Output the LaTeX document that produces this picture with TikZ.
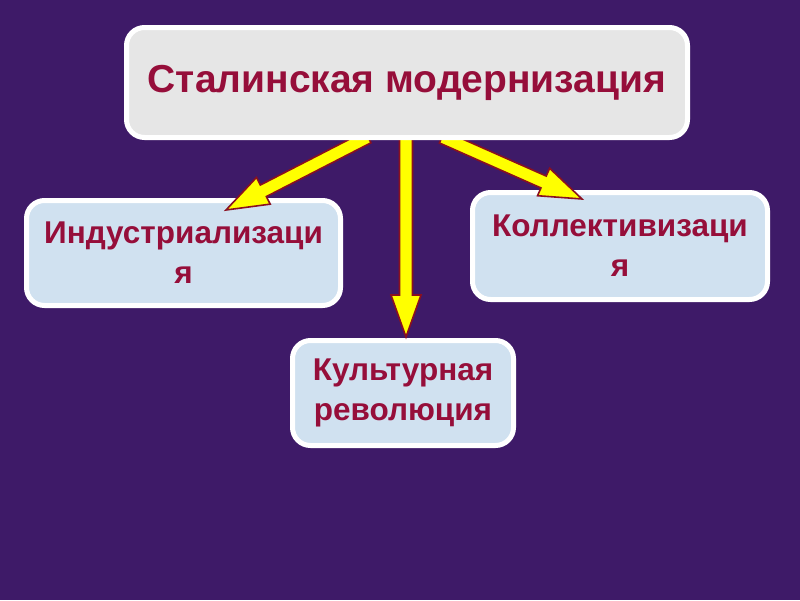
\documentclass[tikz,border=0pt]{standalone}
\usepackage{fontspec}
\setmainfont{Liberation Sans}
\usetikzlibrary{calc}
\definecolor{bgpurple}{HTML}{3E1A68}
\definecolor{topfill}{HTML}{E6E6E6}
\definecolor{boxfill}{HTML}{D0E1F0}
\definecolor{txtred}{HTML}{960E3A}
\definecolor{arrowyellow}{HTML}{FFFF00}
\definecolor{arrowred}{HTML}{8A1020}
\tikzset{
  topbox/.style={draw=white, line width=5pt, fill=topfill, rounded corners=18pt,
    minimum width=561pt, minimum height=110pt, inner sep=0pt,
    font=\fontsize{39}{44}\selectfont\bfseries, text=txtred},
  subbox/.style={draw=white, line width=5pt, fill=boxfill, rounded corners=18pt,
    inner sep=0pt, align=center,
    font=\fontsize{31.5}{40}\selectfont\bfseries, text=txtred},
  fatarrow/.style={draw=arrowred, fill=arrowyellow, line width=1.6pt, line join=miter}
}
\newcommand\fatarrowdraw[2]{%
  \path let \p1=($(#2)-(#1)$) in \pgfextra{%
    \pgfmathsetmacro\farrang{atan2(\y1,\x1)}%
    \pgfmathsetmacro\farrlen{veclen(\x1,\y1)}%
    \xdef\farrang{\farrang}\xdef\farrlen{\farrlen}};%
  \begin{scope}[shift={(#1)}, rotate=\farrang]
    \draw[fatarrow] (0pt,6.5pt) -- ({\farrlen pt-42pt},6.5pt) -- ({\farrlen pt-42pt},15pt)
      -- (\farrlen pt,0pt) -- ({\farrlen pt-42pt},-15pt) -- ({\farrlen pt-42pt},-6.5pt)
      -- (0pt,-6.5pt) -- cycle;
  \end{scope}}
\begin{document}
\begin{tikzpicture}[x=1pt,y=-1pt]
\fill[bgpurple] (0,0) rectangle (800,600);
\useasboundingbox (0,0) rectangle (800,600);
% lower boxes
\node[subbox, minimum width=314pt, minimum height=105pt] (ind) at (183.5,253) {Индустриализаци\\я};
\node[subbox, minimum width=295pt, minimum height=107pt] (kol) at (620,246) {Коллективизаци\\я};
\node[subbox, minimum width=221pt, minimum height=105pt] (kul) at (403,393) {Культурная\\революция};
% arrow end points
\coordinate (aL) at (368,137);
\coordinate (aM) at (406,138);
\coordinate (aR) at (442,137);
\coordinate (tL) at (226,210);
\coordinate (tM) at (406,337);
\coordinate (tR) at (582,199);
\fatarrowdraw{aL}{tL}
\fatarrowdraw{aM}{tM}
\fatarrowdraw{aR}{tR}
% top box
\node[topbox] (top) at (407,82.5) {Сталинская модернизация};
\end{tikzpicture}
\end{document}
